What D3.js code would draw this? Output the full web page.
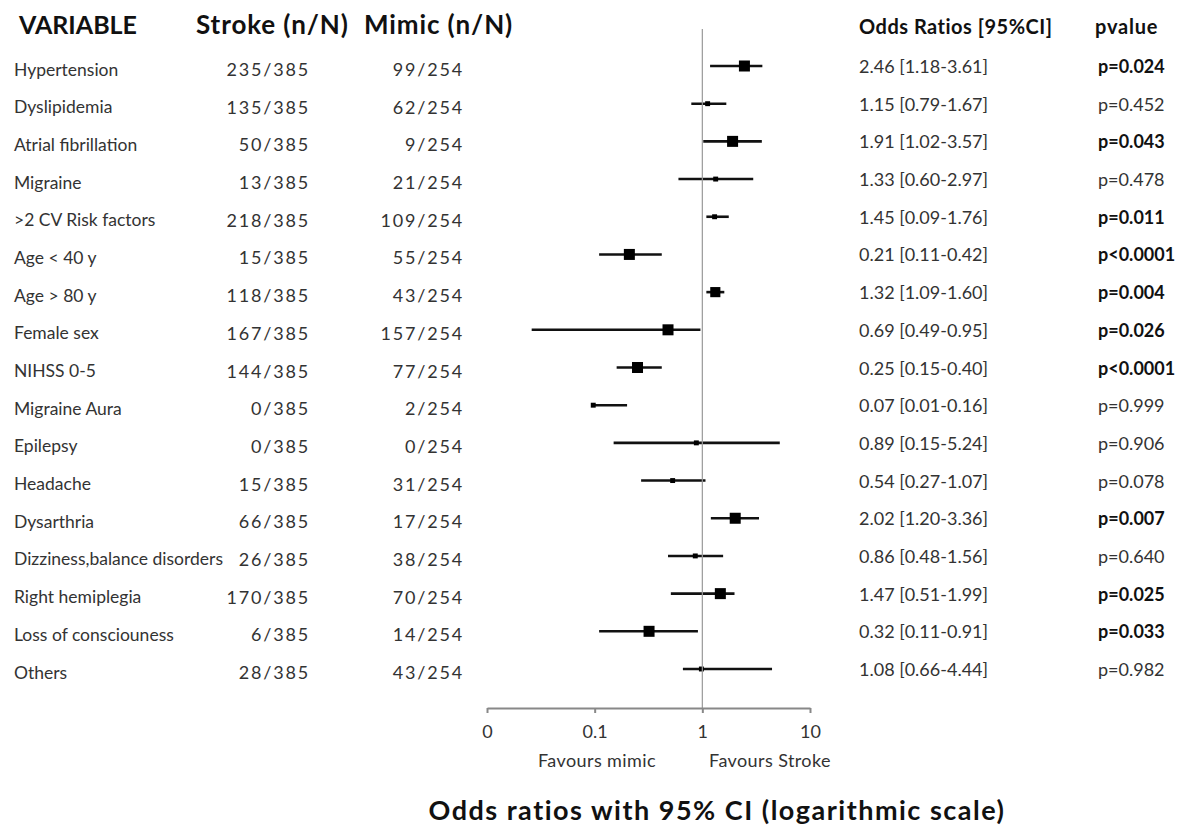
<!DOCTYPE html>
<html>
<head>
<meta charset="utf-8">
<script src="https://cdn.jsdelivr.net/npm/d3@7"></script>
<style>
  body { margin: 0; background: #fff; }
  svg { font-family: Lato, "Open Sans", sans-serif; }
</style>
</head>
<body>
<svg></svg>
<script>
var width = 1184;
var height = 833;

// table columns
var variables = ["Hypertension", "Dyslipidemia", "Atrial fibrillation", "Migraine",
    ">2 CV Risk factors", "Age < 40 y", "Age > 80 y", "Female sex", "NIHSS 0-5",
    "Migraine Aura", "Epilepsy", "Headache", "Dysarthria", "Dizziness,balance disorders",
    "Right hemiplegia", "Loss of consciouness", "Others"];
var strokeN = ["235/385", "135/385", "50/385", "13/385", "218/385", "15/385", "118/385",
    "167/385", "144/385", "0/385", "0/385", "15/385", "66/385", "26/385", "170/385",
    "6/385", "28/385"];
var mimicN = ["99/254", "62/254", "9/254", "21/254", "109/254", "55/254", "43/254",
    "157/254", "77/254", "2/254", "0/254", "31/254", "17/254", "38/254", "70/254",
    "14/254", "43/254"];
var orText = ["2.46 [1.18-3.61]", "1.15 [0.79-1.67]", "1.91 [1.02-3.57]", "1.33 [0.60-2.97]",
    "1.45 [0.09-1.76]", "0.21 [0.11-0.42]", "1.32 [1.09-1.60]", "0.69 [0.49-0.95]",
    "0.25 [0.15-0.40]", "0.07 [0.01-0.16]", "0.89 [0.15-5.24]", "0.54 [0.27-1.07]",
    "2.02 [1.20-3.36]", "0.86 [0.48-1.56]", "1.47 [0.51-1.99]", "0.32 [0.11-0.91]",
    "1.08 [0.66-4.44]"];
var pText = ["p=0.024", "p=0.452", "p=0.043", "p=0.478", "p=0.011", "p<0.0001", "p=0.004",
    "p=0.026", "p<0.0001", "p=0.999", "p=0.906", "p=0.078", "p=0.007", "p=0.640",
    "p=0.025", "p=0.033", "p=0.982"];
var significant = [1, 0, 1, 0, 1, 1, 1, 1, 1, 0, 0, 0, 1, 0, 1, 1, 0];

// plotted values
var orPlot = [2.46, 1.12, 1.91, 1.33, 1.3, 0.21, 1.32, 0.48, 0.25, 0.097, 0.88, 0.53,
    2.02, 0.86, 1.47, 0.32, 0.98];
var ciLow = [1.18, 0.79, 1.02, 0.60, 1.09, 0.11, 1.09, 0.026, 0.16, 0.095, 0.15, 0.27,
    1.20, 0.48, 0.51, 0.11, 0.66];
var ciHigh = [3.61, 1.67, 3.57, 2.97, 1.76, 0.42, 1.60, 0.96, 0.42, 0.20, 5.24, 1.07,
    3.36, 1.56, 1.99, 0.91, 4.44];
var weights = [1, 0.2, 1, 0.2, 0.2, 1, 0.85, 1, 1, 0.2, 0.2, 0.2, 1, 0.2, 1, 1, 0.2];

var tickValues = [0.01, 0.1, 1, 10];
var tickLabels = ["0", "0.1", "1", "10"];

var rows = variables.map((v, i) => ({
    name: v, stroke: strokeN[i], mimic: mimicN[i], orText: orText[i], p: pText[i],
    sig: significant[i], or: orPlot[i], lo: ciLow[i], hi: ciHigh[i], w: weights[i]
}));

var svg = d3.select("svg")
    .attr("width", width)
    .attr("height", height);

//scales
var xScale = d3.scaleLog()
    .domain([0.01, 10])
    .range([487, 810]);
var yScale = d3.scalePoint()
    .domain(variables)
    .range([66, 669]);
var sizeScale = d3.scaleSqrt()
    .domain([0, 1])
    .range([0, 11]);

var axisY = 708;

// headers
var headers = [
    {t: "VARIABLE", x: 19, size: 25, ls: 0},
    {t: "Stroke (n/N)", x: 196, size: 26, ls: 0.9},
    {t: "Mimic (n/N)", x: 364, size: 26, ls: 0.9},
    {t: "Odds Ratios [95%CI]", x: 859, size: 20, ls: 0.5},
    {t: "pvalue", x: 1095, size: 20, ls: 0.8}
];
svg.selectAll(".header")
    .data(headers)
    .enter()
    .append("text")
        .attr("class", "header")
        .attr("x", d => d.x)
        .attr("y", 34)
        .attr("font-size", d => d.size)
        .attr("letter-spacing", d => d.ls)
        .attr("font-weight", "bold")
        .attr("fill", "#111")
        .text(d => d.t);

// table rows
var row = svg.selectAll(".row")
    .data(rows)
    .enter()
    .append("g")
        .attr("class", "row")
        .attr("transform", d => "translate(0," + yScale(d.name) + ")")
        .attr("font-size", 17.5)
        .attr("fill", "#333");

row.append("text")
    .attr("x", 14)
    .attr("y", 3)
    .attr("dominant-baseline", "central")
    .text(d => d.name);
row.append("text")
    .attr("x", 310)
    .attr("y", 3)
    .attr("text-anchor", "end")
    .attr("dominant-baseline", "central")
    .attr("font-size", 18)
    .attr("letter-spacing", 1.8)
    .text(d => d.stroke);
row.append("text")
    .attr("x", 464)
    .attr("y", 3)
    .attr("text-anchor", "end")
    .attr("dominant-baseline", "central")
    .attr("font-size", 18)
    .attr("letter-spacing", 1.8)
    .text(d => d.mimic);
row.append("text")
    .attr("x", 859)
    .attr("y", 0)
    .attr("dominant-baseline", "central")
    .attr("font-size", 18)
    .text(d => d.orText);
row.append("text")
    .attr("x", 1098)
    .attr("y", 0)
    .attr("dominant-baseline", "central")
    .attr("font-size", 18)
    .attr("font-weight", d => d.sig ? "bold" : "normal")
    .attr("fill", d => d.sig ? "#111" : "#333")
    .text(d => d.p);

// reference line at OR = 1
svg.append("line")
    .attr("x1", xScale(1))
    .attr("x2", xScale(1))
    .attr("y1", 29)
    .attr("y2", axisY)
    .attr("stroke", "#999")
    .attr("stroke-width", 1.2);

// confidence intervals
row.append("line")
    .attr("x1", d => xScale(d.lo))
    .attr("x2", d => xScale(d.hi))
    .attr("y1", 0)
    .attr("y2", 0)
    .attr("stroke", "#111")
    .attr("stroke-width", 2.6);

// point estimates
row.append("rect")
    .attr("x", d => xScale(d.or) - sizeScale(d.w) / 2)
    .attr("y", d => -sizeScale(d.w) / 2)
    .attr("width", d => sizeScale(d.w))
    .attr("height", d => sizeScale(d.w))
    .attr("fill", "#000");

// x axis
var xAxis = d3.axisBottom(xScale)
    .tickValues(tickValues)
    .tickFormat((d, i) => tickLabels[i])
    .tickSize(5)
    .tickPadding(12)
    .tickSizeOuter(0);
var axisG = svg.append("g")
    .attr("transform", "translate(0," + axisY + ")")
    .call(xAxis);
axisG.select(".domain")
    .attr("stroke", "#888")
    .attr("stroke-width", 2);
axisG.selectAll(".tick line")
    .attr("stroke", "#888")
    .attr("stroke-width", 2);
axisG.selectAll(".tick text")
    .attr("font-family", "Lato, sans-serif")
    .attr("font-size", 18)
    .attr("fill", "#333");

// favours labels
svg.append("text")
    .attr("x", 597)
    .attr("y", 767)
    .attr("text-anchor", "middle")
    .attr("font-size", 18)
    .attr("letter-spacing", 0.4)
    .attr("fill", "#333")
    .text("Favours mimic");
svg.append("text")
    .attr("x", 770)
    .attr("y", 767)
    .attr("text-anchor", "middle")
    .attr("font-size", 18)
    .attr("letter-spacing", 0.4)
    .attr("fill", "#333")
    .text("Favours Stroke");

// title
svg.append("text")
    .attr("x", 717)
    .attr("y", 820)
    .attr("text-anchor", "middle")
    .attr("font-size", 27)
    .attr("letter-spacing", 1.5)
    .attr("font-weight", "bold")
    .attr("fill", "#111")
    .text("Odds ratios with 95% CI (logarithmic scale)");
</script>
</body>
</html>
